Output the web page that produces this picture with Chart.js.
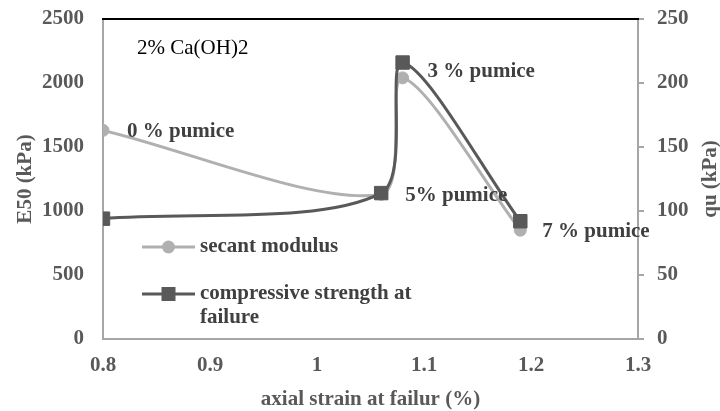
<!DOCTYPE html>
<html><head><meta charset="utf-8">
<script src="https://cdn.jsdelivr.net/npm/chart.js@4.4.0/dist/chart.umd.min.js"></script>
<style>html,body{margin:0;padding:0;background:#fff;} canvas{display:block;}</style>
</head><body>
<canvas id="c" width="720" height="411"></canvas>
<script>
const strain = [0.8, 1.06, 1.08, 1.19];
const secantModulus = [1630, 1130, 2040, 850];
const compressiveStrength = [94, 114, 216, 92];
const pointLabels = ['0 % pumice', '5% pumice', '3 % pumice', '7 % pumice'];
const xTicks = [0.8, 0.9, 1.0, 1.1, 1.2, 1.3];
const leftTicks = [0, 500, 1000, 1500, 2000, 2500];
const rightTicks = [0, 50, 100, 150, 200, 250];
const seriesNames = ['secant modulus', ['compressive strength at', 'failure']];
const noteText = '2% Ca(OH)2';
const rightTitle = 'qu (kPa)';

const LIGHT = '#b0b0b0', DARK = '#595959', AXIS = '#a6a6a6', TXT = '#595959', LBL = '#404040';
const FONT = 'Liberation Serif, Times New Roman, serif';
const FS = 21;

const extras = {
  id: 'extras',
  afterDatasetsDraw(chart) {
    const {ctx, chartArea: a, scales} = chart;
    const x = scales.x, y = scales.y, y1 = scales.y1;
    ctx.save();
    // top border
    ctx.strokeStyle = '#000'; ctx.lineWidth = 2;
    ctx.beginPath(); ctx.moveTo(a.left - 1, a.top); ctx.lineTo(a.right + 1, a.top); ctx.stroke();
    // note
    ctx.fillStyle = '#000'; ctx.font = FS + 'px ' + FONT; ctx.textBaseline = 'middle'; ctx.textAlign = 'left';
    ctx.fillText(noteText, a.left + 34, a.top + 29);
    // point labels
    ctx.font = 'bold ' + FS + 'px ' + FONT; ctx.fillStyle = LBL;
    const anchors = [
      [x.getPixelForValue(strain[0]), y.getPixelForValue(secantModulus[0]), 24, 1],
      [x.getPixelForValue(strain[1]), y1.getPixelForValue(compressiveStrength[1]), 24, 2],
      [x.getPixelForValue(strain[2]), y1.getPixelForValue(compressiveStrength[2]), 25, 9],
      [x.getPixelForValue(strain[3]), y1.getPixelForValue(compressiveStrength[3]), 22, 10]
    ];
    anchors.forEach((p, i) => ctx.fillText(pointLabels[i], p[0] + p[2], p[1] + p[3]));
    // legend
    const lx0 = a.left + 39, lx1 = a.left + 92, mx = (lx0 + lx1) / 2, tx = a.left + 97;
    const ly0 = a.top + 228, ly1 = a.top + 275;
    ctx.lineWidth = 3;
    ctx.strokeStyle = LIGHT; ctx.beginPath(); ctx.moveTo(lx0, ly0); ctx.lineTo(lx1, ly0); ctx.stroke();
    ctx.fillStyle = LIGHT; ctx.beginPath(); ctx.arc(mx, ly0, 6.5, 0, Math.PI * 2); ctx.fill();
    ctx.strokeStyle = DARK; ctx.beginPath(); ctx.moveTo(lx0, ly1); ctx.lineTo(lx1, ly1); ctx.stroke();
    ctx.fillStyle = DARK; ctx.fillRect(mx - 7, ly1 - 7, 14, 14);
    ctx.fillStyle = LBL;
    ctx.fillText(seriesNames[0], tx, ly0);
    ctx.fillText(seriesNames[1][0], tx, ly1);
    ctx.fillText(seriesNames[1][1], tx, ly1 + 24);
    // right axis title (reads bottom to top)
    ctx.fillStyle = TXT; ctx.textAlign = 'center';
    ctx.translate(y1.right - 9, (a.top + a.bottom) / 2);
    ctx.rotate(-Math.PI / 2);
    ctx.fillText(rightTitle, 0, 0);
    ctx.restore();
  }
};

const tickFont = {family: FONT, size: FS, weight: 'bold'};
const titleFont = {family: FONT, size: FS, weight: 'bold', lineHeight: 1};
const fixV = w => s => { s.width = w; s.paddingTop = 0; s.paddingBottom = 0; };

new Chart(document.getElementById('c'), {
  type: 'scatter',
  data: {
    datasets: [
      {
        label: 'secant modulus',
        data: strain.map((v, i) => ({x: v, y: secantModulus[i]})),
        yAxisID: 'y', showLine: true, tension: 0.3,
        borderColor: LIGHT, backgroundColor: LIGHT, borderWidth: 3,
        pointStyle: 'circle', pointRadius: 6, pointBorderWidth: 1, order: 1
      },
      {
        label: 'compressive strength at failure',
        data: strain.map((v, i) => ({x: v, y: compressiveStrength[i]})),
        yAxisID: 'y1', showLine: true, tension: 0.3,
        borderColor: DARK, backgroundColor: DARK, borderWidth: 3,
        pointStyle: 'rect', pointRadius: 9.5, pointBorderWidth: 1, order: 0
      }
    ]
  },
  options: {
    responsive: false, animation: false, devicePixelRatio: 1,
    layout: {padding: {top: 19, left: 0, right: 0, bottom: 0}},
    plugins: {legend: {display: false}, tooltip: {enabled: false}},
    scales: {
      x: {
        type: 'linear', min: 0.8, max: 1.3,
        afterBuildTicks: s => { s.ticks = xTicks.map(v => ({value: v})); },
        afterFit: s => { s.height = 72; s.paddingLeft = 0; s.paddingRight = 0; },
        ticks: {font: tickFont, color: TXT, padding: 14, callback: v => String(Math.round(v * 10) / 10)},
        grid: {display: false, drawTicks: false},
        border: {display: true, color: AXIS, width: 2},
        title: {display: true, text: 'axial strain at failur (%)', font: titleFont, color: TXT, padding: {top: 1, bottom: 1}}
      },
      y: {
        type: 'linear', position: 'left', min: 0, max: 2500,
        afterBuildTicks: s => { s.ticks = leftTicks.map(v => ({value: v})); },
        afterFit: fixV(103),
        ticks: {font: tickFont, color: TXT, padding: 19, callback: v => String(v)},
        grid: {display: false, drawTicks: false},
        border: {display: true, color: AXIS, width: 2},
        title: {display: true, text: 'E50 (kPa)', font: titleFont, color: TXT, padding: {top: 15, bottom: 15}}
      },
      y1: {
        type: 'linear', position: 'right', min: 0, max: 250,
        afterBuildTicks: s => { s.ticks = rightTicks.map(v => ({value: v})); },
        afterFit: fixV(82),
        ticks: {font: tickFont, color: TXT, padding: 13, callback: v => String(v)},
        grid: {display: true, drawOnChartArea: false, drawTicks: true, tickLength: 6, color: AXIS, lineWidth: 2},
        border: {display: true, color: AXIS, width: 2},
        title: {display: false}
      }
    }
  },
  plugins: [extras]
});
</script>
</body></html>
